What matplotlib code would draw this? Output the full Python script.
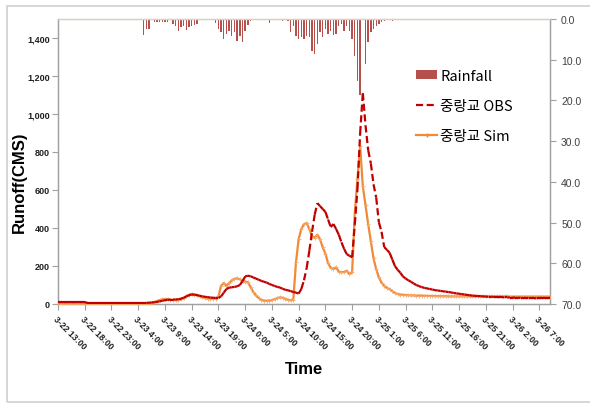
import numpy as np
import matplotlib
matplotlib.use("Agg")
import matplotlib.pyplot as plt
from matplotlib.collections import LineCollection
from matplotlib.lines import Line2D
from matplotlib.patches import Patch, Rectangle

# ---------------- data (30-minute steps from 3-22 13:00) ----------------
step_h = 0.5
tick_labels = ["3-22 13:00", "3-22 18:00", "3-22 23:00", "3-23 4:00", "3-23 9:00",
               "3-23 14:00", "3-23 19:00", "3-24 0:00", "3-24 5:00", "3-24 10:00",
               "3-24 15:00", "3-24 20:00", "3-25 1:00", "3-25 6:00", "3-25 11:00",
               "3-25 16:00", "3-25 21:00", "3-26 2:00", "3-26 7:00"]

obs = [10]*11 + [6]*23 + [
    7, 8, 9, 11, 14, 17, 20, 22, 23, 23, 24, 25, 28, 33, 40, 46, 50, 49, 47, 43,
    40, 38, 36, 34, 33, 32, 32, 40, 60, 79, 86, 88, 90, 93, 100, 120, 145, 149, 146, 140,
    134, 128, 122, 117, 113, 106, 100, 95, 90, 87, 80, 75, 72, 68, 63, 60, 55, 79, 125, 190,
    280, 380, 470, 531, 515, 500, 485, 445, 405, 421, 395, 365, 325, 290, 262, 254, 246, 420, 605, 900,
    1110, 940, 810, 740, 630, 560, 430, 380, 300, 285, 270, 235, 200, 180, 165, 145, 134, 125, 117, 108,
    100, 94, 89, 85, 82, 79, 76, 73, 71, 69, 67, 65, 63, 61, 58, 56, 54, 52, 50, 48,
    46, 44, 43, 42, 41, 40, 39, 38, 38, 37, 37, 36, 36, 35, 35, 34, 34, 33, 33, 32,
    32, 32, 31, 31, 31, 30, 30, 30, 30, 30, 30]

sim = [2]*35 + [
    5, 10, 15, 20, 24, 26, 25, 23, 21, 20, 20, 24, 30, 40, 48, 53, 50, 45, 40, 35,
    31, 28, 26, 26, 28, 40, 96, 110, 96, 110, 125, 132, 135, 130, 123, 118, 114, 90, 65, 45,
    32, 22, 18, 17, 18, 20, 25, 30, 35, 33, 27, 22, 19, 22, 219, 342, 395, 420, 425, 395,
    355, 350, 365, 340, 298, 265, 215, 190, 186, 193, 170, 167, 168, 175, 158, 167, 480, 660, 830, 620,
    520, 420, 330, 240, 184, 140, 112, 96, 85, 78, 68, 58, 53, 50, 48, 47, 46, 45, 45, 44,
    44, 44, 43, 43, 42, 42, 42, 41, 41, 41, 41, 40, 40, 40, 40, 40, 40, 40, 40, 40,
    40, 40, 40, 40, 40, 40, 40, 40, 40, 40, 40, 40, 40, 40, 39, 39, 39, 39, 39, 39,
    39, 39, 39, 39, 39, 39, 39, 39, 39, 39]

rain = [0]*32 + [
    3.9, 2.5, 2.5, 0, 0.7, 0.7, 0.7, 0.7, 0.7, 0.7, 0, 1.2, 1.6, 3.0, 2.0, 1.6, 2.6, 2.0, 1.6, 1.5,
    1.2, 0, 0, 0, 0, 0, 0, 1.0, 2.5, 3.3, 4.9, 3.7, 2.9, 4.1, 3.3, 5.3, 4.1, 5.7, 2.9, 1.5,
    0.4, 0, 0, 0, 0.25, 0.25, 0.25, 1.0, 0, 0, 0, 0, 0.4, 0, 0.4, 3.3, 1.6, 4.1, 4.9, 4.5,
    4.9, 4.1, 4.5, 7.8, 8.6, 6.1, 3.3, 4.5, 2.5, 3.7, 2.9, 3.9, 3.7, 1.6, 1.2, 2.9, 1.6, 2.9,
    4.9, 9.0, 15.2, 18.7, 0, 11.1, 5.7, 3.3, 2.5, 1.8, 1.2, 0.8, 0.4, 0, 0, 0.4, 0.25, 0,
    0, 0, 0.25, 0, 0, 0, 0, 0.2]
rain = rain + [0]*(len(obs) - len(rain))

t = np.arange(len(obs)) * step_h

# ---------------- figure ----------------
fig = plt.figure(figsize=(5.9, 4.06), dpi=100)
fig.patches.append(Rectangle((7/590, 3/406), 1.0, 396/406, transform=fig.transFigure,
                             fill=False, edgecolor="#D0D0D0", linewidth=1.2))
ax = fig.add_axes([58/590, 1-305/406, 492/590, 285/406])
ax2 = ax.twinx()

obs_color = "#C00000"
sim_color = "#F08A36"
rain_color = "#B5504C"

# rainfall bars (secondary axis, reversed)
ax2.bar(t, rain, width=0.26, color=rain_color, align="center", zorder=1)
ax2.set_ylim(70, 0)
ax2.set_yticks(np.arange(0, 71, 10))
ax2.set_yticklabels([f"{v:.1f}" for v in np.arange(0, 71, 10)], fontsize=7.5,
                    color="#404040", family="Liberation Sans")

# simulated flow
ax.plot(t, sim[:len(t)], color=sim_color, lw=1.6, marker="+", ms=3, mew=0.6,
        mec="#F4A766", zorder=3)

# observed flow: dashes restart on every segment (spreadsheet-like)
pts = np.column_stack([t, obs])
segs = np.stack([pts[:-1], pts[1:]], axis=1)
lc = LineCollection(segs, colors=obs_color, linewidths=1.6,
                    linestyles=[(0, (3.2, 1.6))], capstyle="butt", zorder=4)
ax.add_collection(lc)

ax.set_zorder(ax2.get_zorder() + 1)
ax.patch.set_visible(False)

ax.set_xlim(0, 92)
ax.set_ylim(0, 1500)
ax.set_yticks(np.arange(0, 1401, 200))
ax.set_yticklabels([f"{v:,}" for v in range(0, 1401, 200)], fontsize=6.5,
                   fontweight="bold", color="#202020", family="Liberation Sans")
ax.set_xticks(np.arange(0, 91, 5))
ax.set_xticklabels(tick_labels, rotation=-45, ha="left", va="top",
                   rotation_mode="anchor", fontsize=6.3, fontweight="bold",
                   color="#202020", family="Liberation Sans")

for a in (ax, ax2):
    for s in a.spines.values():
        s.set_color("#A0A0A0")
        s.set_linewidth(0.9)
ax.spines["top"].set_color("#D8D0C0")
ax2.spines["top"].set_color("#D8D0C0")
ax.tick_params(axis="both", direction="out", length=4, width=0.8, color="#A0A0A0", pad=2)
ax.tick_params(axis="x", pad=3)
ax2.tick_params(axis="y", direction="out", length=4, width=0.8, color="#A0A0A0", pad=4)

fig.text(19/590, 1-182/406, "Runoff(CMS)", rotation=90, ha="center", va="center",
         fontsize=12, fontweight="bold", family="Liberation Sans")
ax.set_xlabel("Time", fontsize=12, fontweight="bold", family="Liberation Sans", labelpad=8)

handles = [Patch(facecolor=rain_color, edgecolor="none"),
           Line2D([], [], color=obs_color, lw=1.6, linestyle=(0, (3.2, 1.6))),
           Line2D([], [], color=sim_color, lw=1.6, marker="+", ms=3, markevery=[1])]
labels = ["Rainfall", "중랑교 OBS", "중랑교 Sim"]
leg = ax.legend(handles, labels, loc="upper left", bbox_to_anchor=(0.728, 0.825),
                frameon=False, borderaxespad=0, borderpad=0, handlelength=1.45,
                handleheight=0.55, handletextpad=0.2, labelspacing=1.1,
                prop={"family": ["Noto Sans CJK KR", "DejaVu Sans"], "size": 10.5})

fig.savefig("out.png", dpi=100)
